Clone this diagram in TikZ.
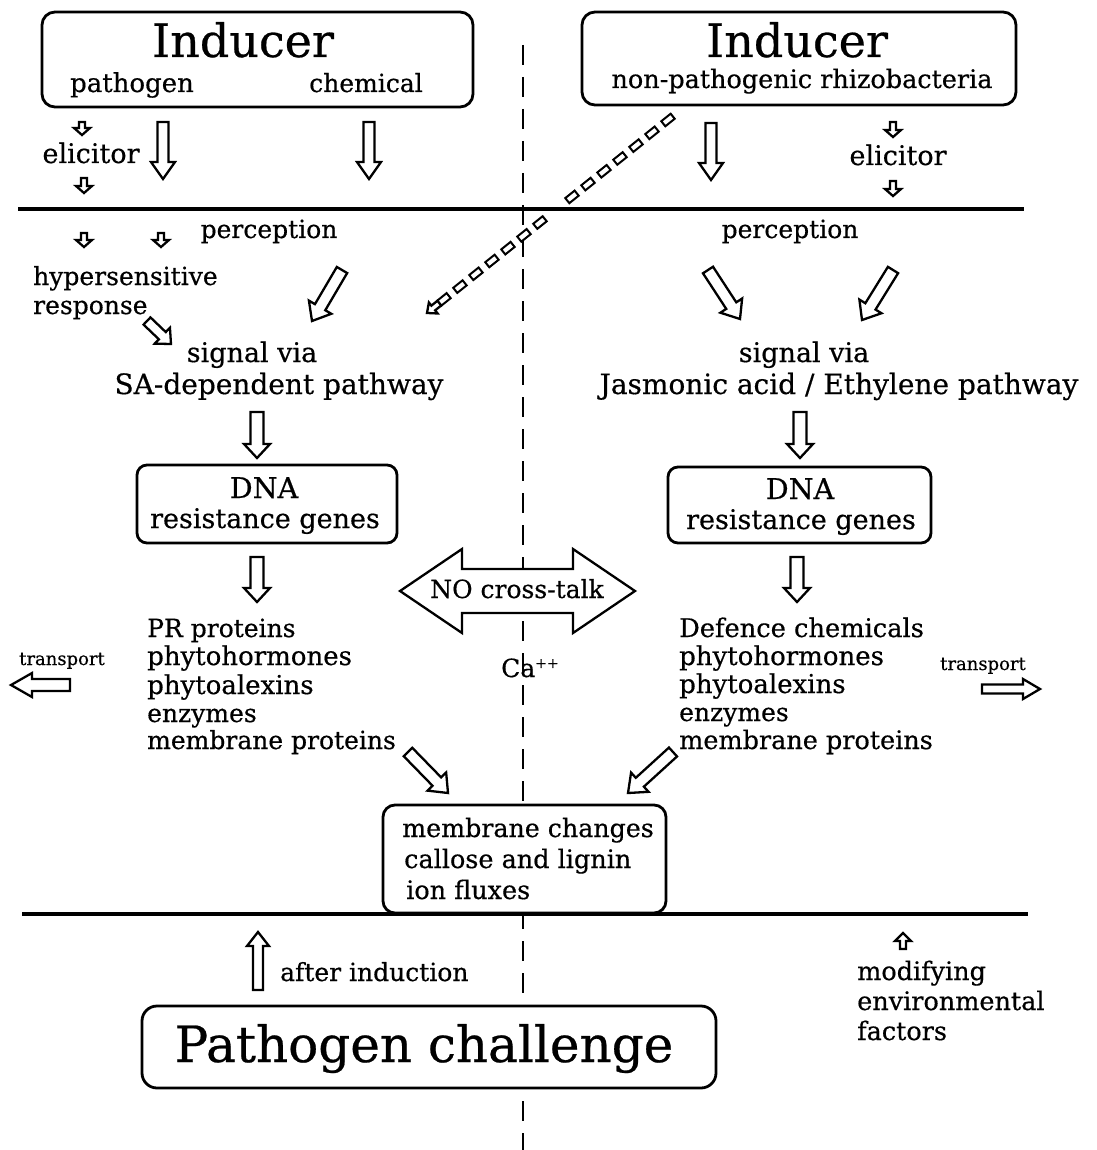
\documentclass[tikz,border=0pt]{standalone}
\usepackage{fontspec}
\setmainfont{DejaVu Serif}[FakeBold=0.5]
\usetikzlibrary{calc}
\tikzset{
 box/.style={draw, line width=2.8pt, rounded corners=13pt, fill=white, inner sep=0pt},
 harr/.style={draw, line width=2.3pt, fill=white, line join=miter, miter limit=10},
 txt/.style={inner sep=0pt, font=\fontsize{25}{28}\selectfont},
 ctext/.style={txt, anchor=base},
 ltext/.style={txt, anchor=base west},
 fs/.style={font=\fontsize{#1}{#1}\selectfont},
 bigt/.style={inner sep=0pt, anchor=base, font=\fontsize{46}{50}\selectfont},
 smt/.style={inner sep=0pt, anchor=base, font=\fontsize{18}{20}\selectfont},
 rulel/.style={line width=4.2pt},
 vdash/.style={line width=2.4pt, dash pattern=on 20pt off 12pt},
 drect/.style={draw, line width=2pt, minimum width=12pt, minimum height=6.5pt, inner sep=0pt, fill=white},
}
\newcommand\harrow[5]{%
 \coordinate (hb) at ($(#2)!#5!(#1)$);
 \draw[harr] ($(#1)!#3!90:(#2)$) -- ($(hb)!#3!-90:(#1)$) -- ($(hb)!#4!-90:(#1)$) -- (#2) -- ($(hb)!#4!90:(#1)$) -- ($(hb)!#3!90:(#1)$) -- ($(#1)!#3!-90:(#2)$) -- cycle;}
\newcommand\smallarr[2]{\harrow{#1}{#2}{3pt}{8pt}{7pt}}
\newcommand\bigarr[2]{\harrow{#1}{#2}{5.5pt}{12pt}{17pt}}
\newcommand\midarr[2]{\harrow{#1}{#2}{6.5pt}{13pt}{14pt}}
\newcommand\diagarr[2]{\harrow{#1}{#2}{6pt}{13pt}{16pt}}
\begin{document}
\begin{tikzpicture}[x=1pt,y=-1pt]
\useasboundingbox[fill=white] (0,0) rectangle (1096,1150);
% vertical dashed divider
\coordinate (vtop) at (523,45);
\coordinate (vbot) at (523,1150);
\draw[vdash] (vtop) -- (vbot);
% horizontal rules
\coordinate (r1a) at (18,209); \coordinate (r1b) at (1024,209);
\coordinate (r2a) at (22,914); \coordinate (r2b) at (1028,914);
\draw[rulel] (r1a) -- (r1b);
\draw[rulel] (r2a) -- (r2b);
% boxes
\node[box, minimum width=431pt, minimum height=95pt] (ind1) at (257.5,59.5) {};
\node[box, minimum width=434pt, minimum height=93pt] (ind2) at (799,58.5) {};
\node[box, rounded corners=10pt, minimum width=260pt, minimum height=78pt] (dna1) at (267,504) {};
\node[box, rounded corners=10pt, minimum width=263pt, minimum height=76pt] (dna2) at (799.5,505) {};
\node[box, rounded corners=12pt, minimum width=283pt, minimum height=108pt] (memb) at (524.5,859) {};
\node[box, rounded corners=15pt, minimum width=574pt, minimum height=82pt] (pbox) at (429,1047) {};
% dashed arrow from rhizobacteria to SA pathway
\coordinate (dA) at (668,120);
\coordinate (dB) at (427,313);
\foreach \i in {0,...,6,8,9,...,14}{
  \path (dA) -- (dB) node[drect, sloped, pos={\i*20.5/308.7}] {};
}
\coordinate (dH) at ($(dA)!293pt!(dB)$);
\harrow{dH}{dB}{3pt}{7pt}{8pt}
% arrow coordinates
\coordinate (a1t) at (82,122); \coordinate (a1h) at (82,135);
\coordinate (a2t) at (84,178); \coordinate (a2h) at (84,193);
\coordinate (a3t) at (163,122); \coordinate (a3h) at (163,179);
\coordinate (a4t) at (369,122); \coordinate (a4h) at (369,179);
\coordinate (a5t) at (711,123); \coordinate (a5h) at (711,180);
\coordinate (a6t) at (893,122); \coordinate (a6h) at (893,137);
\coordinate (a7t) at (893,181); \coordinate (a7h) at (893,196);
\coordinate (a8t) at (84,233); \coordinate (a8h) at (84,247);
\coordinate (a9t) at (161,233); \coordinate (a9h) at (161,247);
\coordinate (a10t) at (342,270); \coordinate (a10h) at (312,321);
\coordinate (a11t) at (147,321); \coordinate (a11h) at (171,344);
\coordinate (a12t) at (708,270); \coordinate (a12h) at (740,319);
\coordinate (a13t) at (893,270); \coordinate (a13h) at (862,320);
\coordinate (a14t) at (257,412); \coordinate (a14h) at (257,458);
\coordinate (a15t) at (800,412); \coordinate (a15h) at (800,458);
\coordinate (a16t) at (257,557); \coordinate (a16h) at (257,602);
\coordinate (a17t) at (797,557); \coordinate (a17h) at (797,602);
\coordinate (a18t) at (408,752); \coordinate (a18h) at (448,793);
\coordinate (a19t) at (673,752); \coordinate (a19h) at (628,793);
\coordinate (a20t) at (258,990); \coordinate (a20h) at (258,932);
\coordinate (a21t) at (903,949); \coordinate (a21h) at (903,933);
\coordinate (a22t) at (70,685); \coordinate (a22h) at (11,685);
\coordinate (a23t) at (982,689); \coordinate (a23h) at (1040,689);
\smallarr{a1t}{a1h}
\smallarr{a2t}{a2h}
\bigarr{a3t}{a3h}
\bigarr{a4t}{a4h}
\bigarr{a5t}{a5h}
\smallarr{a6t}{a6h}
\smallarr{a7t}{a7h}
\smallarr{a8t}{a8h}
\smallarr{a9t}{a9h}
\diagarr{a10t}{a10h}
\harrow{a11t}{a11h}{5pt}{11pt}{12pt}
\diagarr{a12t}{a12h}
\diagarr{a13t}{a13h}
\midarr{a14t}{a14h}
\midarr{a15t}{a15h}
\midarr{a16t}{a16h}
\midarr{a17t}{a17h}
\diagarr{a18t}{a18h}
\diagarr{a19t}{a19h}
\harrow{a20t}{a20h}{5pt}{11pt}{14pt}
\harrow{a21t}{a21h}{3pt}{8pt}{8pt}
\harrow{a22t}{a22h}{6pt}{12pt}{21pt}
\harrow{a23t}{a23h}{4.5pt}{10pt}{17pt}
% NO cross-talk double arrow
\draw[harr] (400,591) -- (462,549) -- (462,569) -- (573,569) -- (573,549) -- (635,591) -- (573,633) -- (573,613) -- (462,613) -- (462,633) -- cycle;
\node[ctext] (nocross) at (517,598) {NO cross-talk};
% texts
\node[bigt] (indL) at (243,57) {Inducer};
\node[ctext, fs=26] (pathogen) at (132,92) {pathogen};
\node[ctext] (chemical) at (366,92) {chemical};
\node[bigt] (indR) at (797,57) {Inducer};
\node[ctext, fs=25.5] (npr) at (802,88) {non-pathogenic rhizobacteria};
\node[ctext, fs=27] (elicL) at (91,163) {elicitor};
\node[ctext, fs=27] (elicR) at (898,165) {elicitor};
\node[ctext] (percL) at (269,238) {perception};
\node[ctext] (percR) at (790,238) {perception};
\node[ltext] (hyp) at (33,285) {hypersensitive};
\node[ltext] (resp) at (33,314) {response};
\node[ctext, fs=27] (sigL) at (252,362) {signal via};
\node[ctext, fs=28] (saL) at (279,394) {SA-dependent pathway};
\node[ctext, fs=27] (sigR) at (804,362) {signal via};
\node[ctext, fs=28] (jaR) at (839,394) {Jasmonic acid / Ethylene pathway};
\node[ctext, fs=28.5] (dnaL) at (264,498) {DNA};
\node[ctext, fs=27] (rgL) at (265,528) {resistance genes};
\node[ctext, fs=28.5] (dnaR) at (800,499) {DNA};
\node[ctext, fs=27] (rgR) at (801,529) {resistance genes};
\node[ltext] (ca) at (501,677) {Ca\textsuperscript{\fontsize{14}{14}\selectfont ++}};
\node[ltext] (l1) at (147,637) {PR proteins};
\node[ltext, fs=26] (l2) at (147,665) {phytohormones};
\node[ltext, fs=26] (l3) at (147,694) {phytoalexins};
\node[ltext] (l4) at (147,722) {enzymes};
\node[ltext] (l5) at (147,749) {membrane proteins};
\node[ltext, fs=25.7] (r1) at (679,637) {Defence chemicals};
\node[ltext, fs=26] (r2) at (679,665) {phytohormones};
\node[ltext, fs=26] (r3) at (679,693) {phytoalexins};
\node[ltext] (r4) at (679,721) {enzymes};
\node[ltext, fs=25.5] (r5) at (679,749) {membrane proteins};
\node[smt] (trL) at (62,665) {transport};
\node[smt] (trR) at (983,670) {transport};
\node[ltext, fs=25.3] (m1) at (402,837) {membrane changes};
\node[ltext, fs=25.5] (m2) at (404,868) {callose and lignin};
\node[ltext, fs=25.5] (m3) at (406,899) {ion fluxes};
\node[ltext] (after) at (280,981) {after induction};
\node[ltext, fs=25.5] (mod1) at (857,980) {modifying};
\node[ltext, fs=25.5] (mod2) at (857,1010) {environmental};
\node[ltext, fs=25.5] (mod3) at (857,1040) {factors};
\node[bigt, fs=50] (pch) at (424,1062) {Pathogen challenge};
\end{tikzpicture}
\end{document}
